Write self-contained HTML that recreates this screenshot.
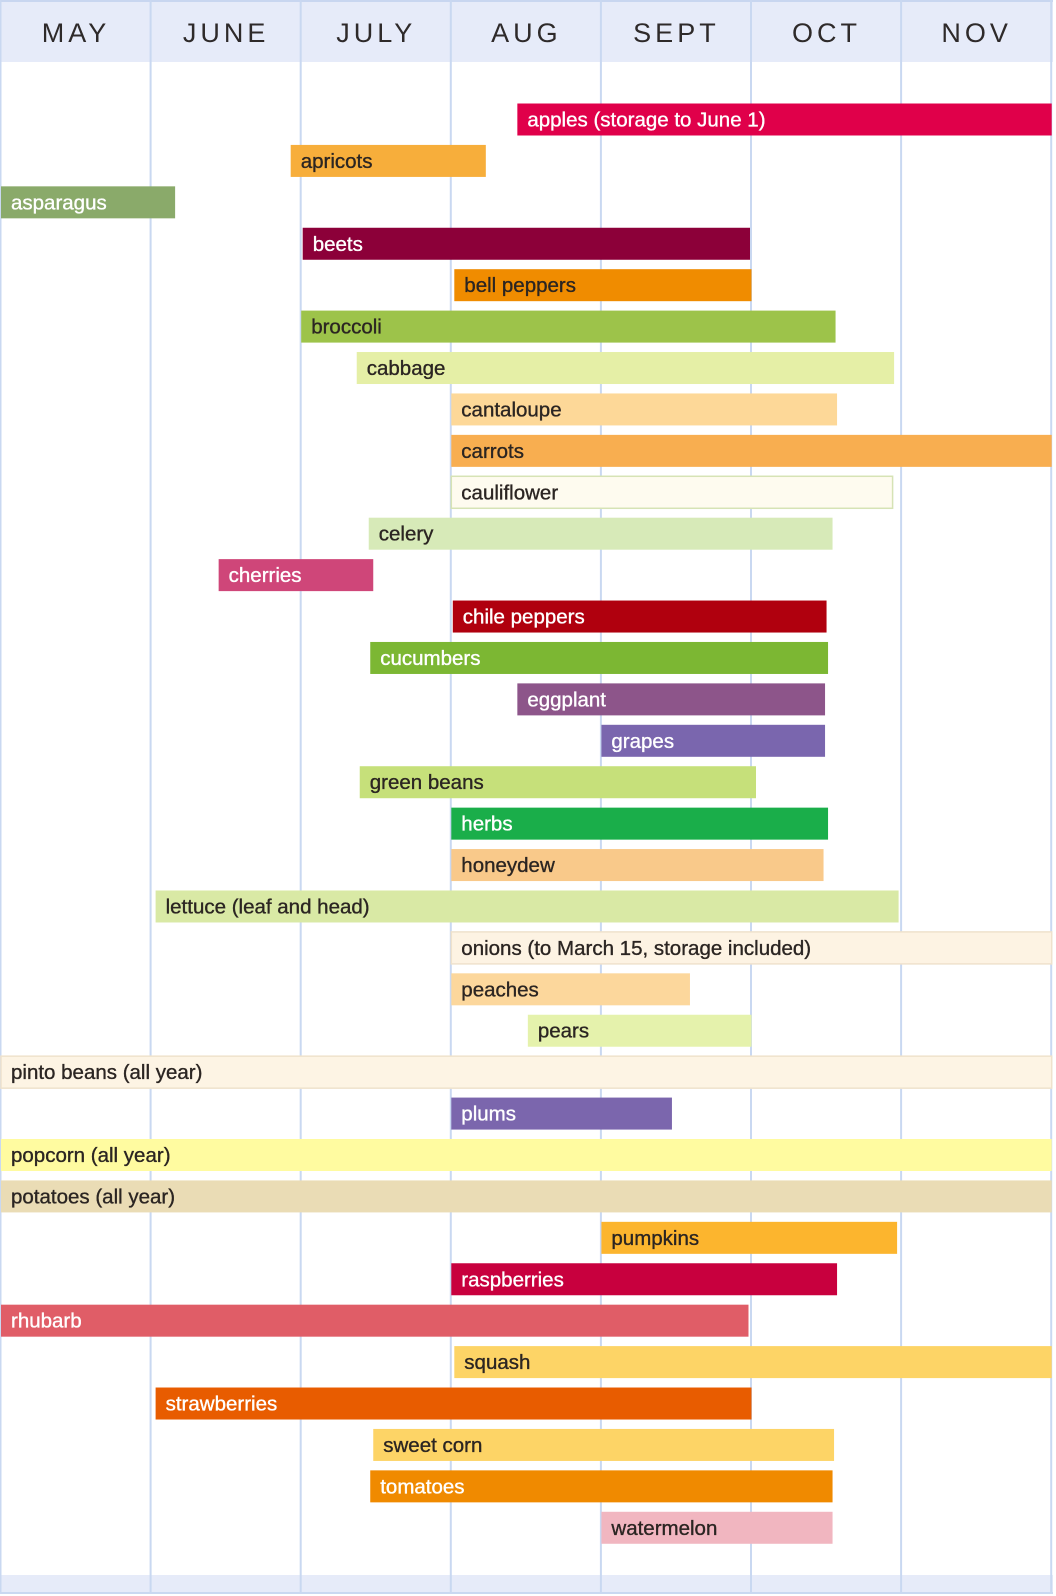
<!DOCTYPE html>
<html><head><meta charset="utf-8"><style>
html,body{margin:0;padding:0;background:#fff;width:1056px;height:1596px;overflow:hidden}
svg{display:block}
</style></head><body>
<svg id="chart" width="1056" height="1596" xmlns="http://www.w3.org/2000/svg"></svg>
<script>
const months = ["MAY","JUNE","JULY","AUG","SEPT","OCT","NOV"];
const crops = ["apples (storage to June 1)","apricots","asparagus","beets","bell peppers","broccoli","cabbage","cantaloupe","carrots","cauliflower","celery","cherries","chile peppers","cucumbers","eggplant","grapes","green beans","herbs","honeydew","lettuce (leaf and head)","onions (to March 15, storage included)","peaches","pears","pinto beans (all year)","plums","popcorn (all year)","potatoes (all year)","pumpkins","raspberries","rhubarb","squash","strawberries","sweet corn","tomatoes","watermelon"];
const starts = [3.44,1.93,0,2.01,3.02,2.0,2.37,3.0,3.0,3.0,2.45,1.45,3.01,2.46,3.44,4.0,2.39,3.0,3.0,1.03,3.0,3.0,3.51,0,3.0,0,0,4.0,3.0,0,3.02,1.03,2.48,2.46,4.0];
const ends = [7,3.23,1.16,4.99,5.0,5.56,5.95,5.57,7,5.94,5.54,2.48,5.5,5.51,5.49,5.49,5.03,5.51,5.48,5.98,7,4.59,5.0,7,4.47,7,7,5.97,5.57,4.98,7,5.0,5.55,5.54,5.54];
const fills = ["#e0004a","#f7ae3b","#8aaa6a","#8c0039","#f08c00","#9dc34a","#e5efa6","#fdd898","#f8ae50","#fefbef","#d7eab8","#cf4679","#b0000e","#7cb733","#8d558a","#7a66ae","#c6e07a","#1aae4a","#f9c98a","#d9e9a5","#fdf3e3","#fcd79c","#e5f2ac","#fdf4e4","#7b66ad","#fffba0","#eadcb5","#fcb52e","#c8003e","#e05d67","#fdd466","#e85c00","#fdd466","#f08a00","#f1b6c0"];
const light = [0,1,0,0,1,1,1,1,1,1,1,0,0,0,0,0,1,0,1,1,1,1,1,1,0,1,1,1,0,0,1,0,1,0,1];

const NS="http://www.w3.org/2000/svg";
const svg=document.getElementById('chart');
const x0=1, colW=150.1, y0=103.5, pitch=41.42, barH=32;
const xs=m=>x0+m*colW;
const ys=i=>y0+i*pitch;
function mk(tag,attrs,parent){const e=document.createElementNS(NS,tag);for(const k in attrs)e.setAttribute(k,attrs[k]);(parent||svg).appendChild(e);return e;}
const hdr=mk('rect',{x:0,y:0,width:1053,height:62,fill:'#e6ebf9'});


mk('rect',{x:0,y:0,width:1053,height:2,fill:'#c8d6f0'});
const ftr=mk('rect',{x:0,y:1575,width:1053,height:19,fill:'#e6ebf9'});


for(let m=0;m<=months.length;m++){
  const gl=mk('rect',{x:xs(m)-1.5,y:0,width:2,height:1594,fill:'#c9d8f1'});
  
  
}
mk('rect',{x:0,y:1592,width:1053,height:2,fill:'#c9d8f1'});
months.forEach((mo,m)=>{
  const t=mk('text',{x:xs(m+0.5),y:42,'text-anchor':'middle','font-family':'Liberation Sans, sans-serif','font-size':'27','letter-spacing':'4',fill:'#2e2a2a'});
  t.textContent=mo;
  
  
});
crops.forEach((c,i)=>{
  const g=mk('g',{});
  
  
  const x=xs(starts[i]), w=xs(ends[i])-x;
  const r=mk('rect',{x:x,y:ys(i),width:w,height:barH,fill:fills[i]},g);
  if(fills[i]=='#fefbef'||fills[i]=='#fdf3e3'||fills[i]=='#fdf4e4'){r.setAttribute('stroke',fills[i]=='#fefbef'?'#d6e3b5':'#efe2cc');r.setAttribute('stroke-width','1.5');}
  const col=light[i]?'#2b2522':'#ffffff';
  const t=mk('text',{x:x+10,y:ys(i)+23,'font-family':'Liberation Sans, sans-serif','font-size':'20.5',fill:col,stroke:col,'stroke-width':'0.35'},g);
  t.textContent=c;
  
  
});
</script>
</body></html>
